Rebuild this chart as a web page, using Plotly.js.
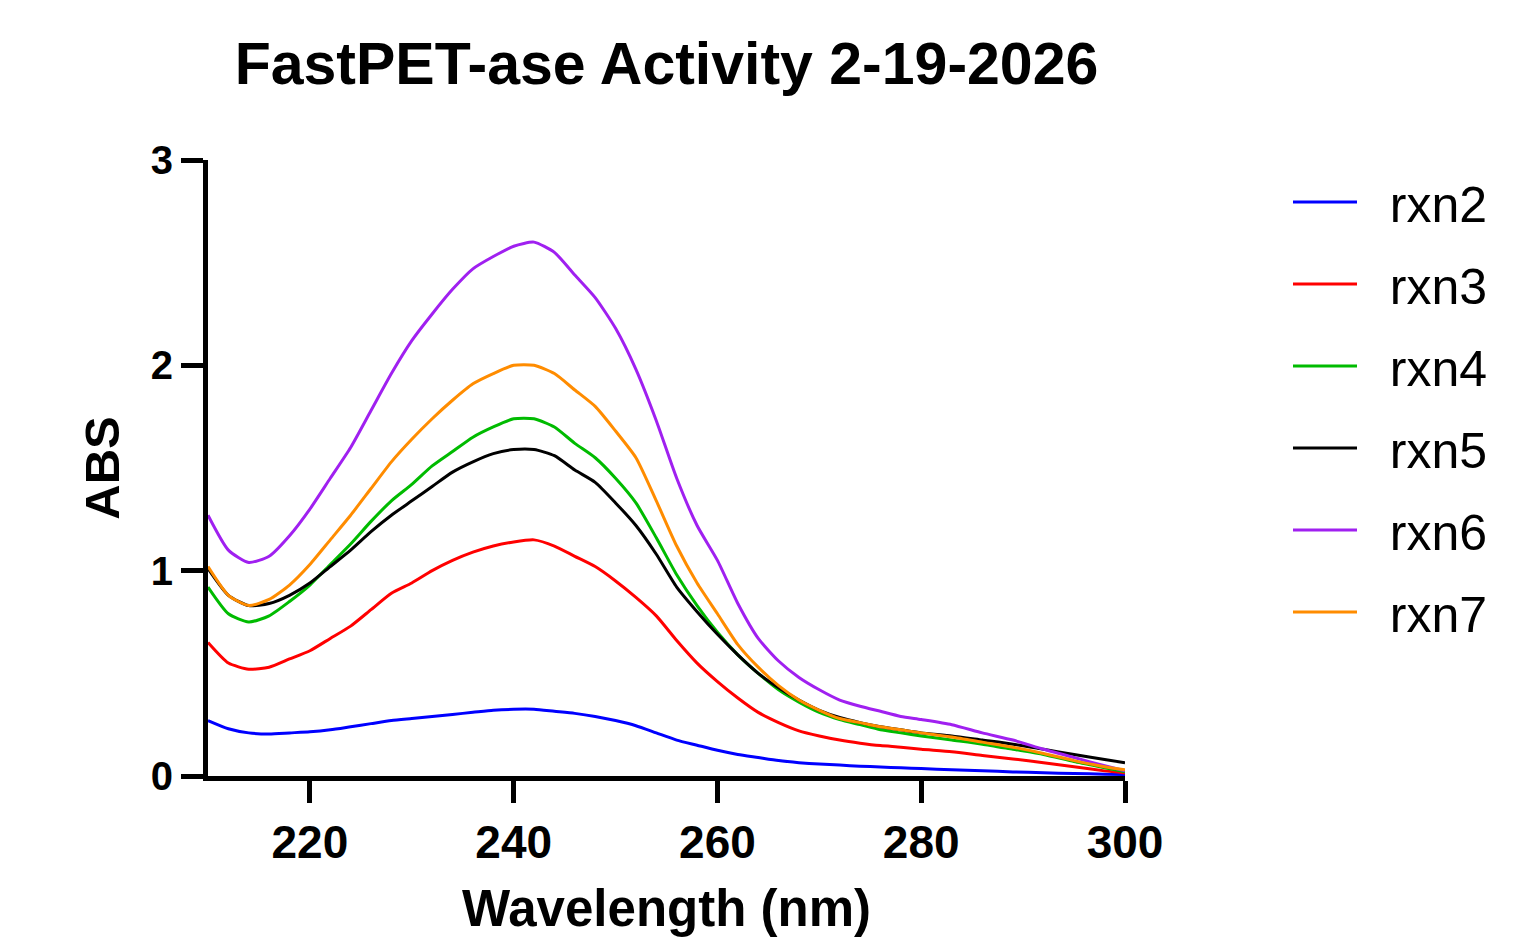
<!DOCTYPE html>
<html>
<head>
<meta charset="utf-8">
<script src="https://cdn.plot.ly/plotly-3.0.1.min.js"></script>
<style>html,body{margin:0;padding:0;background:#fff;}#chart{width:1514px;height:937px;}</style>
</head>
<body>
<div id="chart"></div>
<script>
const wavelength = [210,212,214,216,218,220,222,224,226,228,230,232,234,236,238,240,242,244,246,248,250,252,254,256,258,260,262,264,266,268,270,272,274,276,278,280,283,286,289,292,295,298,300];

const rxn2 = [0.27,0.23,0.21,0.205,0.21,0.215,0.225,0.24,0.255,0.27,0.28,0.29,0.30,0.31,0.32,0.325,0.325,0.315,0.305,0.29,0.27,0.245,0.21,0.175,0.15,0.125,0.105,0.09,0.075,0.065,0.058,0.053,0.048,0.044,0.04,0.036,0.031,0.026,0.02,0.016,0.012,0.009,0.007];
const rxn3 = [0.65,0.55,0.52,0.53,0.57,0.61,0.67,0.73,0.81,0.89,0.94,1.00,1.05,1.09,1.12,1.14,1.15,1.12,1.07,1.02,0.95,0.87,0.78,0.66,0.55,0.46,0.38,0.31,0.26,0.22,0.195,0.175,0.16,0.148,0.14,0.13,0.118,0.10,0.083,0.065,0.045,0.025,0.015];
const rxn4 = [0.92,0.79,0.75,0.78,0.85,0.93,1.03,1.13,1.24,1.34,1.42,1.51,1.58,1.65,1.70,1.74,1.74,1.70,1.62,1.55,1.45,1.33,1.16,0.98,0.83,0.70,0.59,0.50,0.42,0.36,0.31,0.275,0.25,0.225,0.21,0.195,0.175,0.155,0.13,0.105,0.07,0.04,0.02];
const rxn5 = [1.01,0.88,0.83,0.84,0.88,0.94,1.02,1.10,1.19,1.27,1.34,1.41,1.48,1.53,1.57,1.59,1.59,1.56,1.49,1.43,1.33,1.22,1.08,0.92,0.80,0.69,0.59,0.50,0.43,0.37,0.32,0.285,0.26,0.24,0.225,0.21,0.195,0.175,0.155,0.13,0.105,0.08,0.065];
const rxn6 = [1.27,1.10,1.04,1.07,1.17,1.30,1.45,1.60,1.78,1.96,2.12,2.25,2.37,2.47,2.53,2.58,2.60,2.55,2.44,2.33,2.18,1.98,1.73,1.45,1.22,1.05,0.84,0.67,0.56,0.48,0.42,0.37,0.34,0.315,0.29,0.275,0.25,0.21,0.175,0.13,0.09,0.05,0.025];
const rxn7 = [1.02,0.88,0.83,0.86,0.93,1.03,1.15,1.27,1.40,1.53,1.64,1.74,1.83,1.91,1.96,2.00,2.00,1.96,1.88,1.80,1.68,1.55,1.34,1.12,0.94,0.79,0.64,0.53,0.44,0.37,0.32,0.28,0.26,0.24,0.225,0.21,0.19,0.165,0.14,0.11,0.075,0.045,0.03];

const seriesNames = ["rxn2","rxn3","rxn4","rxn5","rxn6","rxn7"];
const seriesValues = [rxn2,rxn3,rxn4,rxn5,rxn6,rxn7];
const seriesColors = ["#0000ff","#ff0000","#00bb00","#000000","#a020f0","#ff8c00"];

const traces = seriesNames.map((n,i)=>({
  x: wavelength, y: seriesValues[i], name: "&nbsp;&nbsp;" + n, type: "scatter", mode: "lines",
  line: {color: seriesColors[i], width: 3, shape: "spline", smoothing: 0.6},
  legendgroup: n
}));

const font = "Liberation Sans, Arial, sans-serif";
const layout = {
  width: 1514, height: 937,
  margin: {l: 208, r: 389, t: 160, b: 161},
  paper_bgcolor: "#fff", plot_bgcolor: "#fff",
  title: {text: "<b>FastPET-ase Activity 2-19-2026</b>", font: {family: font, size: 59, color: "#000"},
          x: 0.5, xref: "paper", y: 1 - 63/937, yref: "container", yanchor: "middle"},
  xaxis: {range: [210, 300], tickvals: [220,240,260,280,300], ticktext: ["220","240","260","280","300"],
          showgrid: false, zeroline: false, showline: true, linecolor: "#000", linewidth: 5,
          ticks: "outside", ticklen: 22, tickwidth: 5, tickcolor: "#000",
          tickfont: {family: font, size: 46, color: "#000", weight: "bold"},
          title: {text: "<b>Wavelength (nm)</b>", font: {family: font, size: 51, color: "#000"}, standoff: 27}},
  yaxis: {range: [0, 3], tickvals: [0,1,2,3], ticktext: ["0","1","2","3"],
          showgrid: false, zeroline: false, showline: true, linecolor: "#000", linewidth: 5,
          ticks: "outside", ticklen: 22, tickwidth: 5, tickcolor: "#000",
          tickfont: {family: font, size: 40, color: "#000", weight: "bold"},
          title: {text: "<b>ABS</b>", font: {family: font, size: 49, color: "#000"}, standoff: 17}},
  showlegend: true,
  legend: {x: 1288/1514, xref: "container", y: 1 - 163/937, yref: "container", xanchor: "left", yanchor: "top",
           font: {family: font, size: 50, color: "#000"}, tracegroupgap: 14, itemwidth: 64,
           maxheight: 700, bgcolor: "rgba(0,0,0,0)"}
};

Plotly.newPlot("chart", traces, layout, {displayModeBar: false, staticPlot: true});
</script>
</body>
</html>
